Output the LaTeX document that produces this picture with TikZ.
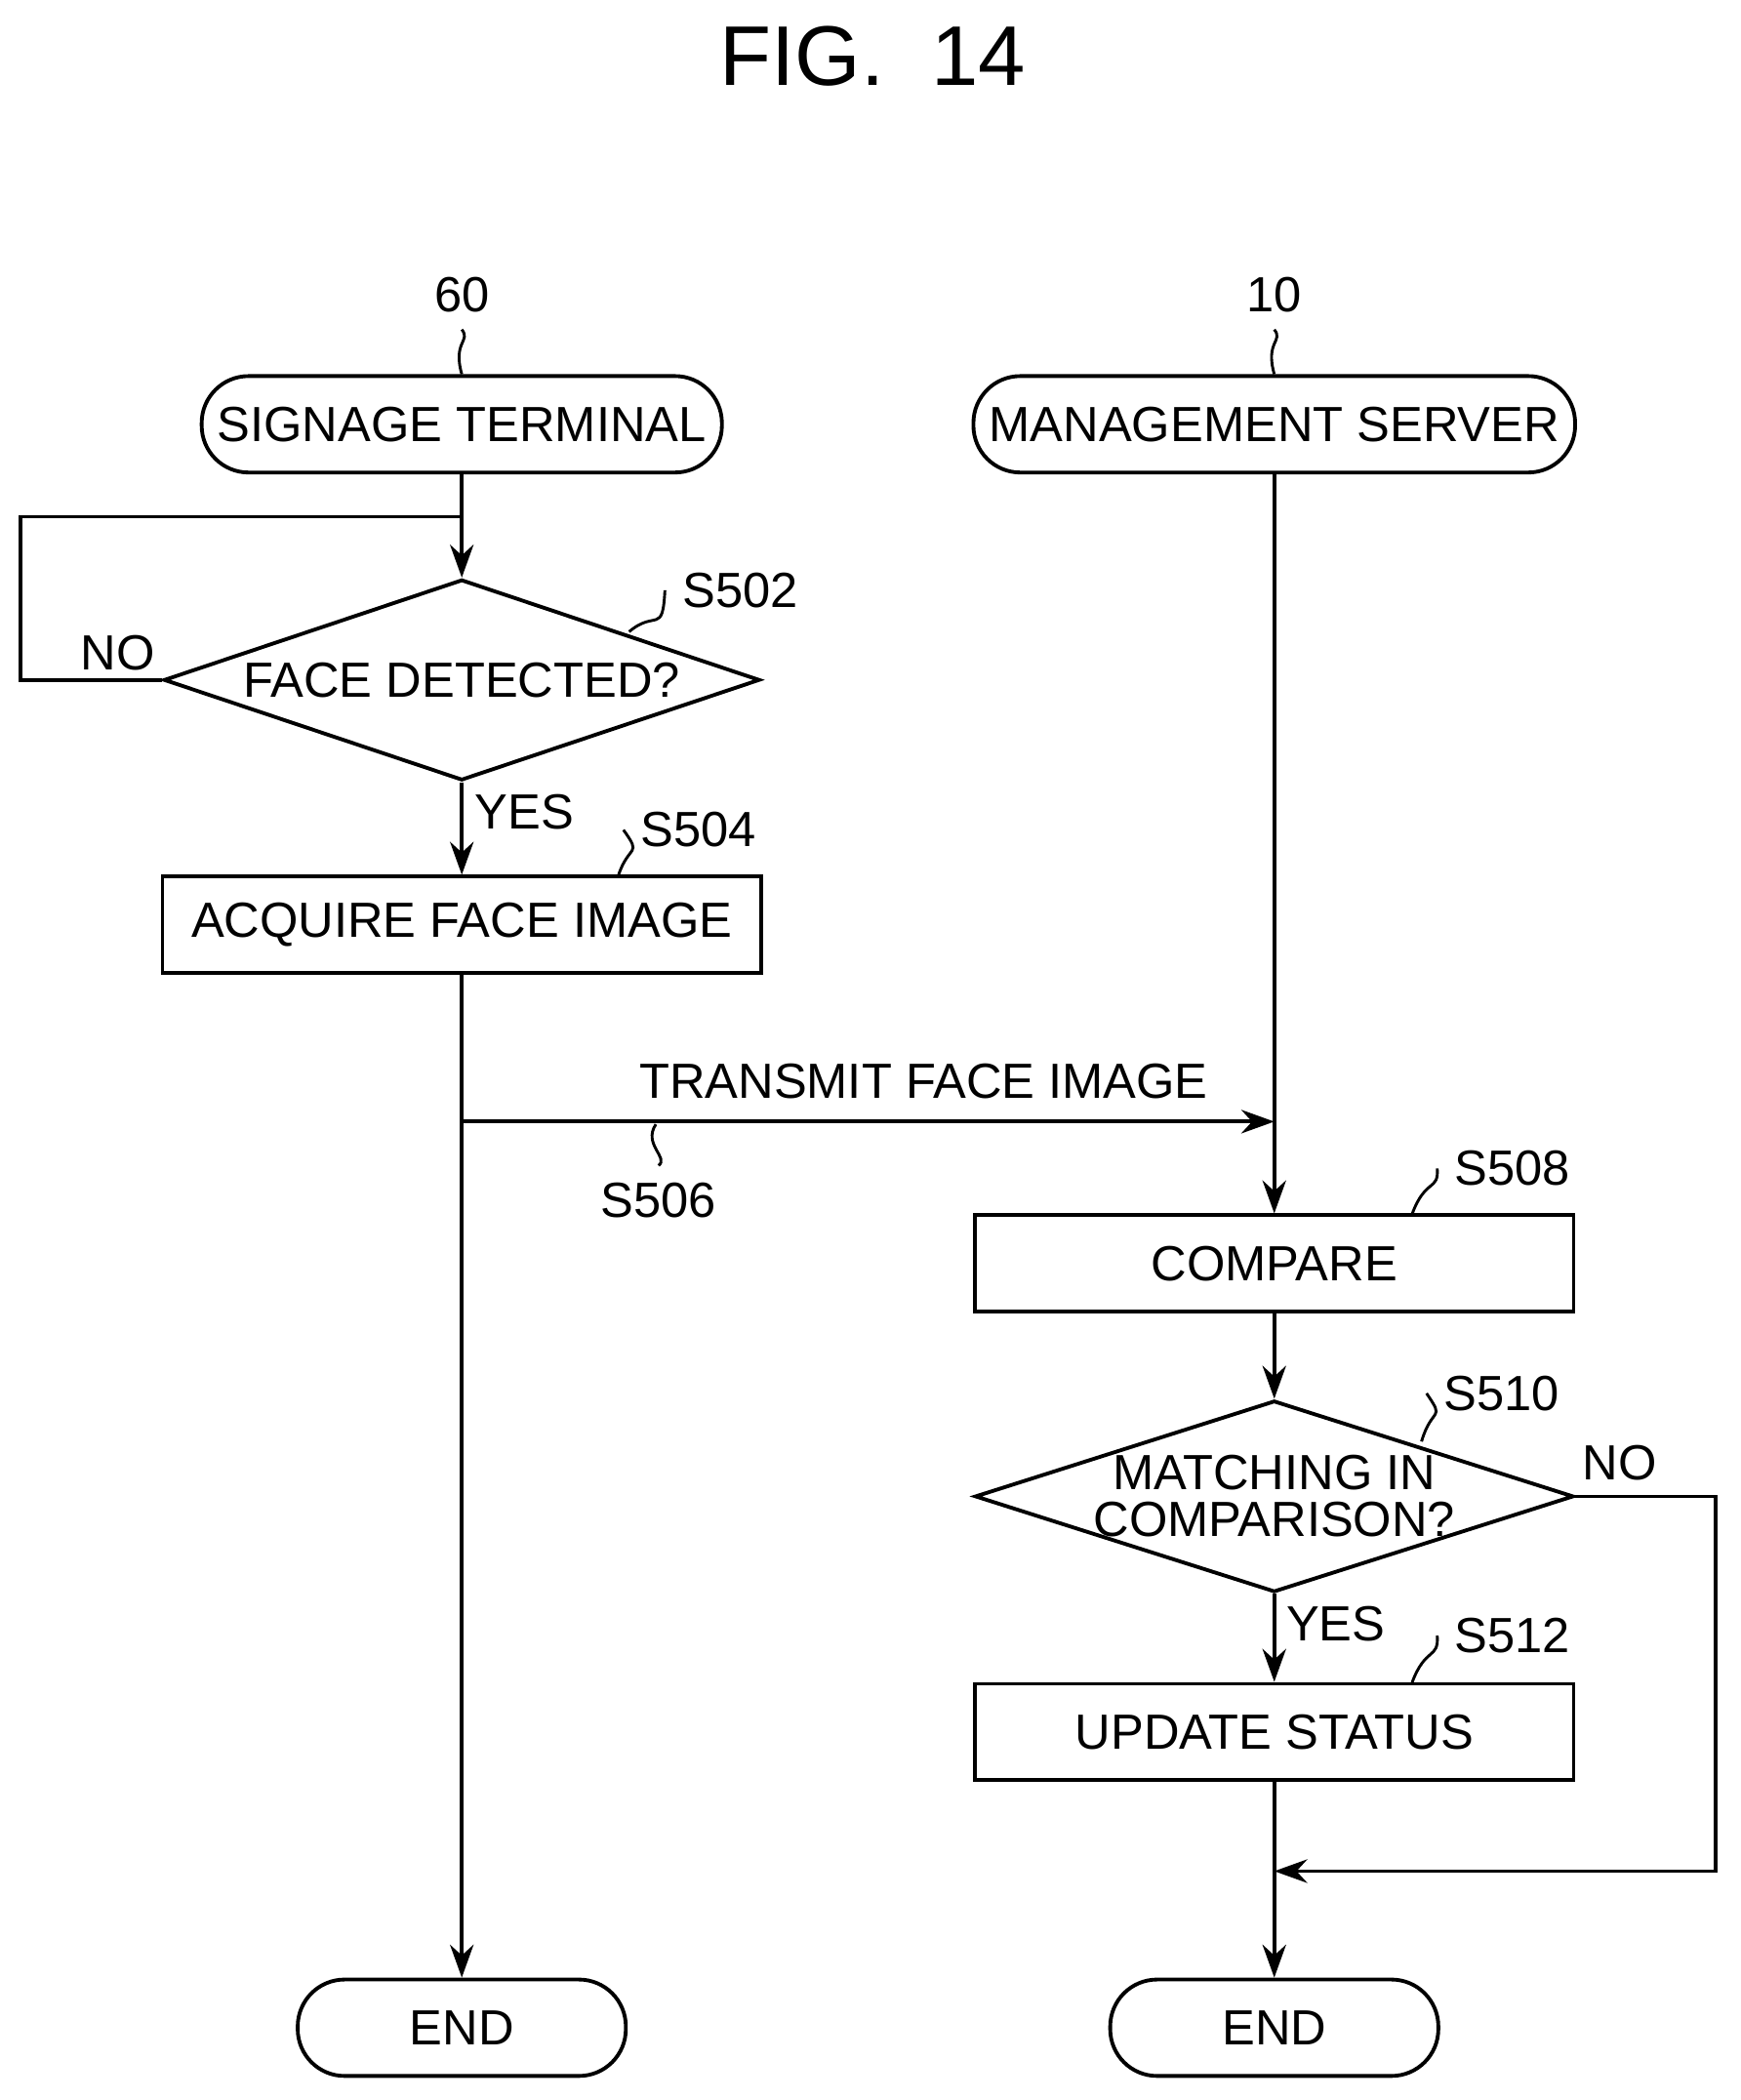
\documentclass[tikz,border=0pt]{standalone}
\usepackage{fontspec}
\setmainfont{Liberation Sans}
\usetikzlibrary{shapes.geometric,arrows.meta}
\begin{document}
\begin{tikzpicture}[x=0.01cm,y=-0.01cm,line width=0.8pt,
  txt/.style={font=\fontsize{10.5}{11}\selectfont},
  term/.style={draw,rounded corners=0.35cm,minimum height=0.72cm,txt},
  box/.style={draw,minimum width=4.47cm,minimum height=0.72cm,txt},
  dia/.style={draw,diamond,aspect=3,inner sep=-12pt,txt,align=center},
  arr/.style={-{Stealth[length=7pt,width=5pt]}},
  sq/.style={line width=0.6pt}]
\useasboundingbox (0,0) rectangle (1300,1569);
\node[font=\fontsize{18}{20}\selectfont] (title) at (652,42) {FIG.\ \ 14};
\node[term,minimum width=3.65cm] (st) at (345,317) {SIGNAGE TERMINAL};
\node[term,minimum width=4.05cm] (ms) at (952,317) {MANAGEMENT SERVER};
\node[txt] (l60) at (345,220) {60};
\node[txt] (l10) at (952,220) {10};
\draw[sq] (l60.south) .. controls (352,255) and (338,255) .. (st.north);
\draw[sq] (l10.south) .. controls (959,255) and (945,255) .. (ms.north);
% left
\node[dia,minimum width=4.45cm,minimum height=1.5cm] (d1) at (345,508) {FACE DETECTED?};
\node[box] (b1) at (345,691) {ACQUIRE FACE IMAGE};
\node[term,minimum width=2.45cm] (e1) at (345,1515) {END};
\coordinate (lp1) at (15,508);
\coordinate (lp2) at (15,386);
\coordinate (lp3) at (345,386);
\draw (st.south) -- (lp3);
\draw[arr] (d1.west) -- (lp1) -- (lp2) -- (lp3) -- (d1.north);
\node[txt] (no1) at (88,488) {NO};
\node[txt] (yes1) at (392,607) {YES};
\draw[arr] (d1.south) -- (b1.north);
\draw[arr] (b1.south) -- (e1.north);
\node[txt] (s502) at (553,441) {S502};
\draw[sq] (470,472) .. controls (490,455) and (495,475) .. (s502.west);
\node[txt] (s504) at (522,620) {S504};
\draw[sq] (462,654) .. controls (470,630) and (480,640) .. (s504.west);
% transmit
\coordinate (br) at (345,838);
\coordinate (tg) at (952,838);
\draw[arr] (br) -- (tg);
\node[txt] (tr) at (690,808) {TRANSMIT FACE IMAGE};
\node[txt] (s506) at (492,897) {S506};
\draw[sq] (490,840) .. controls (480,855) and (500,865) .. (s506.north);
% right
\node[box] (b2) at (952,944) {COMPARE};
\node[dia,minimum width=4.47cm,minimum height=1.43cm] (d2) at (952,1118) {MATCHING IN\\[-1pt]COMPARISON?};
\node[box] (b3) at (952,1294) {UPDATE STATUS};
\node[term,minimum width=2.45cm] (e2) at (952,1515) {END};
\draw[arr] (ms.south) -- (b2.north);
\draw[arr] (b2.south) -- (d2.north);
\draw[arr] (d2.south) -- (b3.north);
\draw[arr] (b3.south) -- (e2.north);
\coordinate (n1) at (1282,1118);
\coordinate (n2) at (1282,1398);
\coordinate (n3) at (952,1398);
\draw[arr] (d2.east) -- (n1) -- (n2) -- (n3);
\node[txt] (no2) at (1210,1093) {NO};
\node[txt] (yes2) at (998,1213) {YES};
\node[txt] (s508) at (1130,873) {S508};
\draw[sq] (1055,907) .. controls (1065,880) and (1075,890) .. (s508.west);
\node[txt] (s510) at (1122,1041) {S510};
\draw[sq] (1062,1077) .. controls (1070,1050) and (1080,1062) .. (s510.west);
\node[txt] (s512) at (1130,1222) {S512};
\draw[sq] (1055,1257) .. controls (1065,1230) and (1075,1240) .. (s512.west);
\end{tikzpicture}
\end{document}
